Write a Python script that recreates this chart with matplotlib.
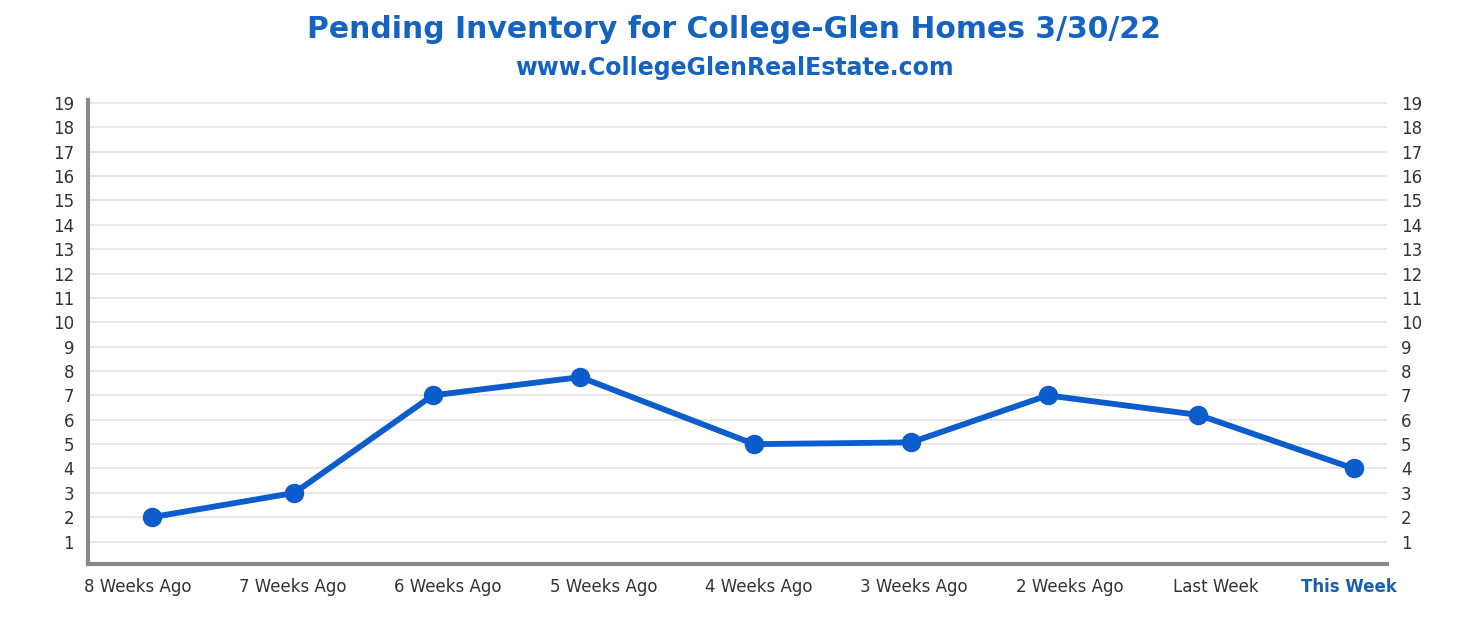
import matplotlib
matplotlib.use("Agg")
import matplotlib.pyplot as plt

# data
week_labels = ["8 Weeks Ago", "7 Weeks Ago", "6 Weeks Ago", "5 Weeks Ago", "4 Weeks Ago",
               "3 Weeks Ago", "2 Weeks Ago", "Last Week", "This Week"]
label_pos = [0, 1, 2, 3, 4, 5, 6, 6.94, 7.8]
point_pos = [0.09, 1.01, 1.90, 2.85, 3.97, 4.98, 5.86, 6.83, 7.83]
pending = [2, 3, 7, 7.75, 5, 5.07, 7, 6.2, 4]
y_ticks = list(range(1, 20))

blue = "#0b5ccc"
title_blue = "#1463c2"
text_gray = "#333333"

fig = plt.figure(figsize=(14.68, 6.22), dpi=100)
ax = fig.add_axes([0.0599, 0.0932, 0.8849, 0.746])

ax.plot(point_pos, pending, color=blue, linewidth=4.2, marker="o", markersize=13,
        solid_capstyle="round", zorder=3)

ax.set_xlim(-0.32, 8.045)
ax.set_ylim(0.08, 19.12)
ax.set_yticks(y_ticks)
ax.set_xticks(label_pos)
ax.set_xticklabels(week_labels)

ax.grid(axis="y", color="#e6e6e6", linewidth=1.3)
ax.set_axisbelow(True)
ax.tick_params(axis="y", length=0, labelleft=True, labelright=True, pad=10,
               labelsize=12, labelcolor=text_gray)
ax.tick_params(axis="x", length=0, pad=10, labelsize=12, labelcolor=text_gray)

last = ax.get_xticklabels()[-1]
last.set_color("#1a5fae")
last.set_fontweight("bold")

for side in ["top", "right"]:
    ax.spines[side].set_visible(False)
for side in ["left", "bottom"]:
    ax.spines[side].set_color("#888888")
    ax.spines[side].set_linewidth(3)

fig.text(0.5, 0.952, "Pending Inventory for College-Glen Homes 3/30/22", ha="center", va="center",
         fontsize=21.5, fontweight="bold", color=title_blue)
fig.text(0.5, 0.891, "www.CollegeGlenRealEstate.com", ha="center", va="center",
         fontsize=17, fontweight="bold", color=title_blue)

fig.savefig("out.png", dpi=100)
